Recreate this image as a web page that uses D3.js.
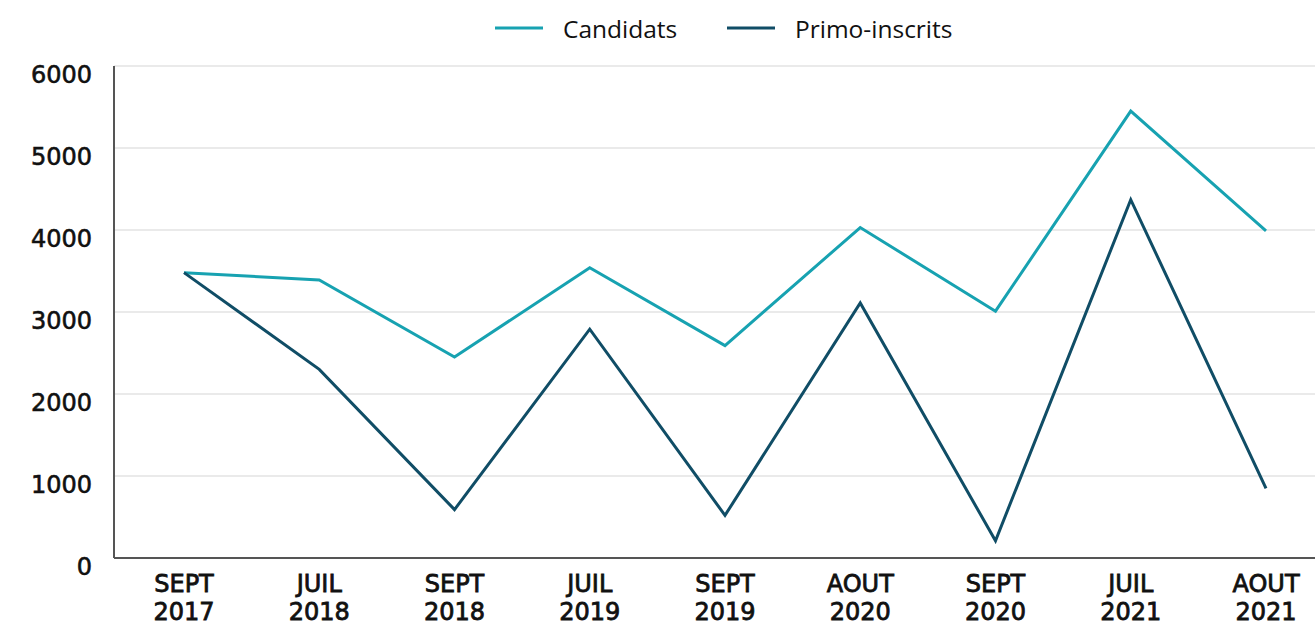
<!DOCTYPE html>
<html>
<head>
<meta charset="utf-8">
<script src="https://cdn.jsdelivr.net/npm/d3@7"></script>
<style>
  body { margin: 0; background: #fff; }
  svg text { fill: #111; }
</style>
</head>
<body>
<svg></svg>
<script>
// data
let periods    = ['SEPT 2017', 'JUIL 2018', 'SEPT 2018', 'JUIL 2019', 'SEPT 2019',
                  'AOUT 2020', 'SEPT 2020', 'JUIL 2021', 'AOUT 2021'];
let candidats  = [3480, 3390, 2450, 3540, 2590, 4030, 3010, 5450, 3990];
let primo      = [3480, 2300, 590, 2790, 520, 3110, 210, 4370, 850];
let yTicks     = [0, 1000, 2000, 3000, 4000, 5000, 6000];
let seriesNames = ['Candidats', 'Primo-inscrits'];
let colors      = ['#17a2b1', '#104d66'];

let width   = 1315,
    height  = 625,
    plotL   = 114,
    plotR   = 1315,
    plotT   = 66,
    plotB   = 558;

let xScale = d3.scalePoint()
                .domain(periods)
                .range([184, 1266]);

let yScale = d3.scaleLinear()
                .domain([0, 6000])
                .range([plotB, plotT]);

let svg = d3.select('svg')
            .attr('width', width)
            .attr('height', height);

// grid
svg.append('g')
    .selectAll('line')
    .data(yTicks.filter(d => d > 0))
    .enter()
    .append('line')
        .attr('x1', plotL)
        .attr('x2', plotR)
        .attr('y1', d => yScale(d))
        .attr('y2', d => yScale(d))
        .attr('stroke', '#e3e3e3')
        .attr('stroke-width', 1.5);

// y axis
let yAxis = d3.axisLeft(yScale)
                .tickValues(yTicks)
                .tickFormat(d3.format('d'))
                .tickSize(0)
                .tickPadding(22);
let gy = svg.append('g')
    .attr('transform', `translate(${plotL}, 0)`)
    .call(yAxis);
gy.select('.domain').remove();
gy.selectAll('text')
    .attr('dy', '0.72em')
    .attr('y', -1)
    .style('font-family', 'DejaVu Sans')
    .style('font-size', '24px')
    .style('fill', '#111')
    .style('stroke', '#111')
    .style('stroke-width', 0.6);

// x axis labels (two lines)
let gx = svg.append('g');
gx.selectAll('text')
    .data(periods)
    .enter()
    .append('text')
        .attr('x', d => xScale(d))
        .attr('text-anchor', 'middle')
        .style('font-family', 'DejaVu Sans')
        .style('font-size', '24px')
        .style('stroke', '#111')
        .style('stroke-width', 0.8)
        .each(function(d) {
            let parts = d.split(' ');
            d3.select(this).append('tspan')
                .attr('x', xScale(d)).attr('y', 592).text(parts[0]);
            d3.select(this).append('tspan')
                .attr('x', xScale(d)).attr('y', 620).text(parts[1]);
        });

// axis lines
svg.append('line')
    .attr('x1', plotL).attr('x2', plotL)
    .attr('y1', plotT).attr('y2', plotB)
    .attr('stroke', '#555').attr('stroke-width', 2);
svg.append('line')
    .attr('x1', plotL).attr('x2', plotR)
    .attr('y1', plotB).attr('y2', plotB)
    .attr('stroke', '#555').attr('stroke-width', 2);

// lines
let line = d3.line()
    .x((d, i) => xScale(periods[i]))
    .y(d => yScale(d));

[candidats, primo].forEach((s, i) => {
    svg.append('path')
        .datum(s)
        .attr('d', line)
        .attr('fill', 'none')
        .attr('stroke', colors[i])
        .attr('stroke-width', 3);
});

// legend
let legendX = [495, 727];
seriesNames.forEach((name, i) => {
    let g = svg.append('g').attr('transform', `translate(${legendX[i]}, 0)`);
    g.append('line')
        .attr('x1', 0).attr('x2', 48)
        .attr('y1', 28).attr('y2', 28)
        .attr('stroke', colors[i])
        .attr('stroke-width', 3);
    g.append('text')
        .attr('x', 68)
        .attr('y', 38)
        .style('font-family', 'Open Sans')
        .style('font-size', '24.5px')
        .text(name);
});
</script>
</body>
</html>
